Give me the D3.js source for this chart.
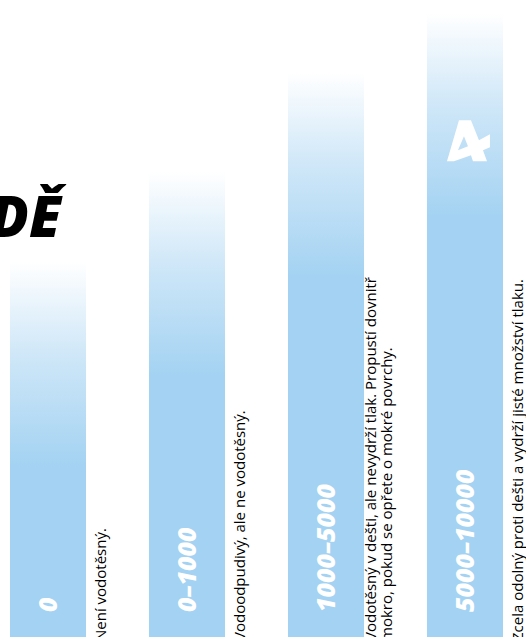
<!DOCTYPE html>
<html>
<head>
<meta charset="utf-8">
<script src="https://cdn.jsdelivr.net/npm/d3@7"></script>
<style>
  html, body { margin: 0; padding: 0; background: #fff; overflow: hidden; }
</style>
</head>
<body>
<div id="chart"></div>
<script>
var ranges = ["0", "0–1000", "1000–5000", "5000–10000"]
var levels = [60.6, 74.7, 90.2, 99.5]
var notes = [
  ["Není vodotěsný."],
  ["Vodoodpudivý, ale ne vodotěsný."],
  ["Vodotěsný v dešti, ale nevydrží tlak. Propustí dovnitř", "mokro, pokud se opřete o mokré povrchy."],
  ["Zcela odolný proti dešti a vydrží jisté množství tlaku."]
]
var title = "VODĚ"

var width = 526, height = 637, bottom = 650

var svg = d3.select("#chart").append("svg")
  .attr("width", width)
  .attr("height", height)

var x = d3.scaleBand().domain(ranges).range([10, 503]).paddingInner(0.453).paddingOuter(0)
var y = d3.scaleLinear().domain([0, 100]).range([bottom, 10])

var defs = svg.append("defs")

// one gradient per bar, fading from white at the top over ~200px
ranges.forEach(function(r, i) {
  var top = y(levels[i])
  var g = defs.append("linearGradient")
    .attr("id", "fade" + i)
    .attr("gradientUnits", "userSpaceOnUse")
    .attr("x1", 0).attr("x2", 0)
    .attr("y1", top).attr("y2", top + 205)
  g.append("stop").attr("offset", 0).attr("stop-color", "#ffffff")
  g.append("stop").attr("offset", 0.45).attr("stop-color", "#cfe7f8")
  g.append("stop").attr("offset", 1).attr("stop-color", "#a3d2f2")
})

svg.append("text")
  .attr("x", 61)
  .attr("y", 237)
  .attr("text-anchor", "end")
  .style("font-family", "'Open Sans'")
  .style("font-weight", 800)
  .style("font-style", "italic")
  .style("font-size", "57px")
  .style("fill", "#000")
  .text(title)

var bars = svg.selectAll("g.bar").data(ranges).enter().append("g").attr("class", "bar")

bars.append("rect")
  .attr("x", d => x(d))
  .attr("y", (d, i) => y(levels[i]))
  .attr("width", x.bandwidth())
  .attr("height", (d, i) => bottom - y(levels[i]))
  .attr("fill", (d, i) => "url(#fade" + i + ")")

bars.append("text")
  .attr("transform", d => "translate(" + (x(d) + x.bandwidth() / 2 + 9) + ",612) rotate(-90)")
  .style("font-family", "'Open Sans'")
  .style("font-weight", 800)
  .style("font-style", "italic")
  .style("font-size", "25px")
  .style("fill", "#fff")
  .text(d => d)

// notes sit beside each bar, block centred on the same offset
bars.each(function(d, i) {
  var lines = notes[i]
  var base = x(d) + x.bandwidth() + 20 - (lines.length - 1) * 8
  var t = d3.select(this).append("text")
    .attr("transform", "translate(" + base + ",641) rotate(-90)")
    .style("font-family", "'Open Sans'")
    .style("font-size", "15px")
    .style("fill", "#000")
  t.selectAll("tspan").data(lines).enter().append("tspan")
    .attr("x", 0)
    .attr("dy", (l, j) => j ? 16 : 0)
    .text(l => l)
})

// logo on the tallest bar
var lx = x(ranges[3]), ly = y(levels[3])
svg.append("path")
  .attr("transform", "translate(" + lx + "," + ly + ")")
  .attr("fill", "#fff")
  .attr("fill-rule", "evenodd")
  .attr("d", "M20,148 L32,107 L44,107 L52,127 L63,121 L63,134 L56,137 L60,148 L46,148 L44,142 L27,148 Z M31,137 L37,123 L41,133 Z")
</script>
</body>
</html>
